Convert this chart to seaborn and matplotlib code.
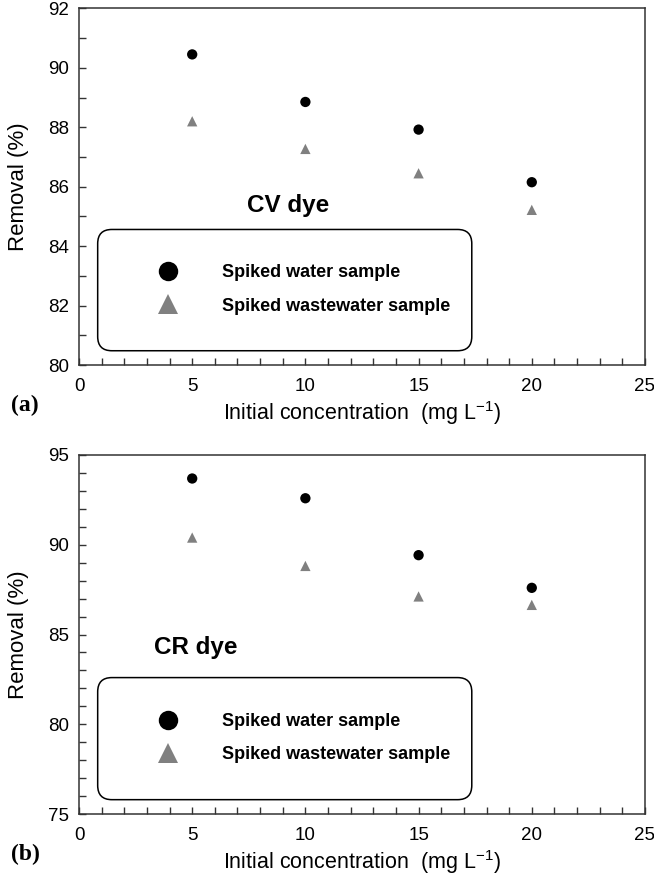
import matplotlib
matplotlib.use("Agg")
import matplotlib.pyplot as plt
from matplotlib import font_manager
from matplotlib.patches import FancyBboxPatch
from matplotlib.ticker import MultipleLocator
from matplotlib.lines import Line2D
import pandas as pd
import seaborn as sns

# data
conc = [5, 10, 15, 20]
cv_water = [90.45, 88.85, 87.92, 86.15]
cv_wastewater = [88.2, 87.27, 86.45, 85.22]
cr_water = [93.69, 92.59, 89.42, 87.6]
cr_wastewater = [90.4, 88.82, 87.12, 86.65]
series_names = ["Spiked water sample", "Spiked wastewater sample"]

sns.set_theme(style="white")
names = {f.name for f in font_manager.fontManager.ttflist}
narrow = "Liberation Sans Narrow" if "Liberation Sans Narrow" in names else "Liberation Sans"
plt.rcParams["font.family"] = [narrow, "DejaVu Sans"]
plt.rcParams["text.color"] = "black"
plt.rcParams["axes.labelcolor"] = "black"

colors = {series_names[0]: "black", series_names[1]: "#808080"}
markers = {series_names[0]: "o", series_names[1]: "^"}


def make_df(water, waste):
    return pd.DataFrame({
        "conc": conc * 2,
        "removal": water + waste,
        "sample": [series_names[0]] * len(conc) + [series_names[1]] * len(conc),
    })


fig = plt.figure(figsize=(6.54, 8.77), dpi=100)
ax_a = fig.add_axes([0.1208, 0.5838, 0.8654, 0.4067])
ax_b = fig.add_axes([0.1208, 0.0718, 0.8654, 0.4094])

panels = [
    (ax_a, make_df(cv_water, cv_wastewater), (80, 92), 2, 1, "CV dye", (0.369, 0.448), "(a)"),
    (ax_b, make_df(cr_water, cr_wastewater), (75, 95), 5, 1, "CR dye", (0.207, 0.465), "(b)"),
]

for ax, df, ylim, ymaj, ymin, dye, dye_pos, tag in panels:
    sns.scatterplot(data=df, x="conc", y="removal", hue="sample", style="sample",
                    palette=colors, markers=markers, s=55, edgecolor="none",
                    legend=False, ax=ax)
    ax.set_xlim(0, 25)
    ax.set_ylim(*ylim)
    ax.xaxis.set_major_locator(MultipleLocator(5))
    ax.xaxis.set_minor_locator(MultipleLocator(1))
    ax.yaxis.set_major_locator(MultipleLocator(ymaj))
    ax.yaxis.set_minor_locator(MultipleLocator(ymin))
    ax.tick_params(which="both", direction="in", length=5, width=1, color="#333333",
                   bottom=True, left=True, top=False, right=False,
                   labelsize=13.5, labelcolor="black")
    ax.tick_params(axis="x", pad=9)
    ax.tick_params(axis="y", pad=7)
    for sp in ax.spines.values():
        sp.set_color("#333333")
        sp.set_linewidth(1.1)
    ax.set_xlabel("Initial concentration  (mg L$^{\\mathregular{-1}}$)", fontsize=15.5, labelpad=3)
    ax.set_ylabel("Removal (%)", fontsize=16, labelpad=14)

    ax.text(dye_pos[0], dye_pos[1], dye, transform=ax.transAxes, ha="center", va="center",
            fontsize=17.5, fontweight="bold", family=["Liberation Sans", "DejaVu Sans"])

    frame = FancyBboxPatch((0.033, 0.04), 0.661, 0.34, transform=ax.transAxes,
                           boxstyle="round,pad=0,rounding_size=0.025", mutation_aspect=1.59,
                           facecolor="none", edgecolor="black", linewidth=1.1)
    ax.add_patch(frame)
    handles = [Line2D([], [], linestyle="none", marker=markers[n], color=colors[n],
                      markersize=14, markeredgewidth=0) for n in series_names]
    ax.legend(handles, series_names, loc="center left", bbox_to_anchor=(0.1254, 0.2115),
              frameon=False, handlelength=1.0, handletextpad=2.5, labelspacing=0.9,
              borderpad=0, prop={"family": "Liberation Sans", "weight": "bold", "size": 13})

    ax.text(-0.121, -0.112, tag, transform=ax.transAxes, ha="left", va="center",
            fontsize=17, fontweight="bold", family=["Liberation Serif", "DejaVu Serif"])

fig.savefig("out.png", dpi=100)
